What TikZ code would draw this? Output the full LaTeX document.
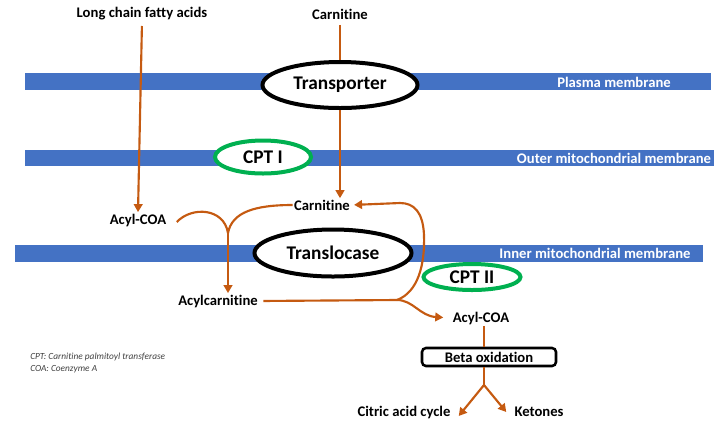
\documentclass[tikz,border=0pt]{standalone}
\usepackage{fontspec}
\setmainfont{Carlito}[Ligatures={NoCommon,NoRare,NoDiscretionary},Contextuals=NoAlternate]
\usetikzlibrary{arrows.meta,shapes.geometric}
\definecolor{membrane}{HTML}{4472C4}
\definecolor{flow}{HTML}{C55A11}
\definecolor{cptgreen}{HTML}{00B050}
\tikzset{
  lbl/.style={font=\bfseries\fontsize{11}{13}\selectfont, inner sep=1pt},
  memlbl/.style={lbl, text=white},
  carrier/.style={ellipse, draw=black, line width=3pt, fill=white, inner sep=0pt,
    font=\bfseries\fontsize{14.5}{17}\selectfont},
  enzyme/.style={carrier, draw=cptgreen},
  flw/.style={draw=flow, line width=1.6pt},
  arr/.style={flw, -{Triangle[width=6.5pt,length=6pt]}},
}
\begin{document}
\begin{tikzpicture}[x=0.75pt,y=-0.75pt]
  \useasboundingbox (0,0) rectangle (728,430);

  \fill[membrane] (25,73) rectangle (711,90);
  \fill[membrane] (25,150) rectangle (714,166);
  \fill[membrane] (15,245) rectangle (703,262);
  \path (614,82) node[memlbl] (pm) {Plasma membrane};
  \path (614,158) node[memlbl] (om) {Outer mitochondrial membrane};
  \path (595,253) node[memlbl] (im) {Inner mitochondrial membrane};

  \path (340,85) node[carrier, minimum width=116.25pt, minimum height=34.5pt] (transp) {Transporter};
  \path (263,157) node[enzyme, minimum width=72pt, minimum height=24.75pt] (cpt1) {CPT I};
  \path (333,253) node[carrier, minimum width=117.75pt, minimum height=35.25pt] (transl) {Translocase};
  \path (472,277) node[enzyme, minimum width=72.75pt, minimum height=19.5pt] (cpt2) {CPT II};

  \path (142,14) node[lbl] (lcfa) {Long chain fatty acids};
  \path (340,14) node[lbl] (carntop) {Carnitine};
  \path (322,205) node[lbl] (carn) {Carnitine};
  \path (138,220) node[lbl] (acyl1) {Acyl-COA};
  \path (218,301) node[lbl] (acylcarn) {Acylcarnitine};
  \path (481,318) node[lbl] (acyl2) {Acyl-COA};
  \path (489,357) node[draw, line width=1.9pt, rounded corners=3pt, minimum width=100.5pt,
    minimum height=13.5pt, inner sep=0pt, font=\bfseries\fontsize{11}{13}\selectfont] (beta) {Beta oxidation};
  \path (404,412) node[lbl] (citric) {Citric acid cycle};
  \path (539,412) node[lbl] (keto) {Ketones};

  \path (30,357) node[anchor=west, inner sep=0pt, text=black!75,
    font=\itshape\fontsize{7}{9}\selectfont] (leg1) {CPT: Carnitine palmitoyl transferase};
  \path (30,369) node[anchor=west, inner sep=0pt, text=black!75,
    font=\itshape\fontsize{7}{9}\selectfont] (leg2) {COA: Coenzyme A};

  \coordinate (join) at (228,233);
  \coordinate (split) at (397,300);
  \coordinate (fork) at (484,385);

  \draw[arr, shorten <=3pt] (lcfa.south) -- (acyl1.north);
  \draw[flw, shorten <=3pt] (carntop.south) -- (transp.north);
  \draw[arr] (transp.south) -- (transp.south |- carn.north);
  \draw[flw] (acyl1.east) ++(9,2) .. controls (192,206) and (224,208) .. (join);
  \draw[flw] (join) .. controls (232,212) and (255,205) .. (carn.west);
  \draw[arr] (join) -- (join |- acylcarn.north);
  \draw[flw, shorten <=3pt] (acylcarn.east) -- (split);
  \draw[arr, shorten >=2pt] (split) .. controls (418,292) and (425,265) .. (424,235)
    .. controls (423,212) and (414,203) .. (400,203) -- (carn.east);
  \draw[arr, shorten >=6pt] (split) .. controls (413,300) and (420,316) .. (acyl2.west);
  \draw[flw] (acyl2.south -| 484,0) -- (beta.north -| 484,0);
  \draw[flw] (beta.south -| fork) -- (fork);
  \draw[arr] (fork) -- ([xshift=5pt,yshift=-3pt]citric.east);
  \draw[arr] (fork) -- ([xshift=-5pt]keto.west);
\end{tikzpicture}
\end{document}
